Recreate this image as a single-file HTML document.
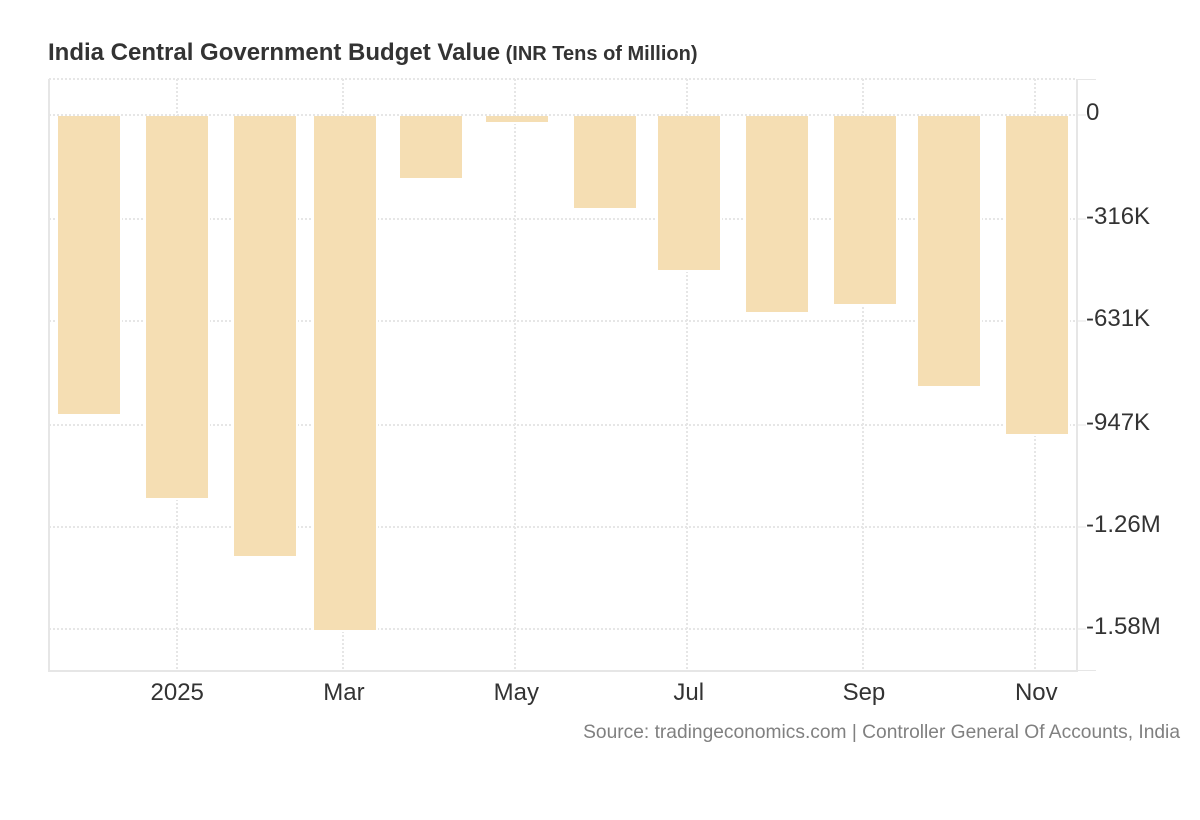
<!DOCTYPE html>
<html lang="en">
<head>
<meta charset="utf-8">
<title>India Central Government Budget Value</title>
<style>
  html, body { margin: 0; padding: 0; background: #ffffff; }
  body { width: 1200px; height: 820px; overflow: hidden; }
  svg { display: block; font-family: "Liberation Sans", Arial, sans-serif; }
</style>
</head>
<body>
<svg id="chart" xmlns="http://www.w3.org/2000/svg" width="1200" height="820" viewBox="0 0 1200 820">
  <rect x="0" y="0" width="1200" height="820" fill="#ffffff"/>
  <text x="48" y="60" fill="#333333" font-size="24" font-weight="700">India Central Government Budget Value<tspan font-size="20"> (INR Tens of Million)</tspan></text>
  <g id="grid"></g>
  <g id="bars"></g>
  <g id="axes"></g>
  <text x="1180" y="738" fill="#808080" font-size="19.2" text-anchor="end">Source: tradingeconomics.com | Controller General Of Accounts, India</text>
</svg>
<script>
// Chart data
const barDays = [-31, 0, 31, 59.5, 90, 120, 151, 181, 212, 243, 273, 304];
const barMonths = ['dec-2024', 'jan-2025', 'feb-2025', 'mar-2025', 'apr-2025', 'may-2025', 'jun-2025', 'jul-2025', 'aug-2025', 'sep-2025', 'oct-2025', 'nov-2025'];
const barValues = [-915, -1174, -1352, -1579, -190, -18, -283, -473, -602, -578, -830, -977];
const yTickValues = [0, -315.8, -631.6, -947.4, -1263.2, -1579];
const yTickLabels = ['0', '-316K', '-631K', '-947K', '-1.26M', '-1.58M'];
const xTickDays = [0, 59, 120, 181, 243, 304];
const xTickLabels = ['2025', 'Mar', 'May', 'Jul', 'Sep', 'Nov'];

const NS = 'http://www.w3.org/2000/svg';
const gridColor = '#e6e6e6';
const axisColor = '#e6e6e6';
const plotLeft = 49;
const plotRight = 1077;
const plotTop = 79;
const plotBottom = 671;
const barWidth = 62;

function yScale(v) { return 116 + (-v) * (514 / 1579); }
function barXScale(d) { return 177 + d * 2.829; }
function nearestOdd(p) { return 2 * Math.round((p - 1.0001) / 2) + 1; }
function tickXScale(d) { return nearestOdd(177 + d * 2.822); }
function labelXScale(d) { return 177.2 + d * 2.826; }
function snapEven(p) { return 2 * Math.round(p / 2); }

function make(tag, attrs, parent) {
  const el = document.createElementNS(NS, tag);
  for (const k in attrs) el.setAttribute(k, attrs[k]);
  parent.appendChild(el);
  return el;
}

const gridG = document.getElementById('grid');
const barsG = document.getElementById('bars');
const axesG = document.getElementById('axes');

// Top dotted border
const topLine = make('line', { x1: plotLeft, x2: plotRight, y1: plotTop, y2: plotTop, stroke: gridColor, 'stroke-width': 2, 'stroke-dasharray': '2 2' }, gridG);



// Vertical dotted gridlines
xTickDays.forEach(function (d, i) {
  const x = tickXScale(d);
  const line = make('line', { x1: x, x2: x, y1: plotTop, y2: plotBottom, stroke: gridColor, 'stroke-width': 2, 'stroke-dasharray': '2 2' }, gridG);
  
  
});

// Horizontal dotted gridlines
yTickValues.forEach(function (v, i) {
  const y = nearestOdd(yScale(v));
  const line = make('line', { x1: plotLeft, x2: plotRight, y1: y, y2: y, stroke: gridColor, 'stroke-width': 2, 'stroke-dasharray': '2 2' }, gridG);
  
  
});

// Bars with a white halo on sides and bottom
barValues.forEach(function (v, i) {
  const left = snapEven(barXScale(barDays[i]) - barWidth / 2);
  const top = yScale(0);
  const bottom = snapEven(yScale(v));
  const halo = make('rect', { x: left - 2, y: top, width: barWidth + 4, height: bottom - top + 2, fill: '#ffffff' }, barsG);
  
  
  const bar = make('rect', { x: left, y: top, width: barWidth, height: bottom - top, fill: '#f5deb3' }, barsG);
  
  
});

// Axis frame
const leftAxis = make('line', { x1: plotLeft, x2: plotLeft, y1: plotTop, y2: plotBottom + 1, stroke: axisColor, 'stroke-width': 2 }, axesG);


const rightAxis = make('line', { x1: plotRight, x2: plotRight, y1: plotTop, y2: plotBottom + 1, stroke: axisColor, 'stroke-width': 2 }, axesG);


const bottomAxis = make('line', { x1: plotLeft, x2: plotRight, y1: plotBottom, y2: plotBottom, stroke: axisColor, 'stroke-width': 2 }, axesG);


const topExt = make('line', { x1: plotRight, x2: 1096, y1: 79.5, y2: 79.5, stroke: axisColor, 'stroke-width': 1 }, axesG);


const bottomExt = make('line', { x1: plotRight, x2: 1096, y1: 670.5, y2: 670.5, stroke: axisColor, 'stroke-width': 1 }, axesG);



// Y axis ticks and labels
yTickValues.forEach(function (v, i) {
  const y = nearestOdd(yScale(v));
  const tick = make('line', { x1: plotRight, x2: 1086, y1: y, y2: y, stroke: axisColor, 'stroke-width': 1 }, axesG);
  
  
  const label = make('text', { x: 1086, y: y + 5, fill: '#333333', 'font-size': 24 }, axesG);
  
  
  label.textContent = yTickLabels[i];
});

// X axis labels
xTickDays.forEach(function (d, i) {
  const label = make('text', { x: labelXScale(d), y: 700, fill: '#333333', 'font-size': 24, 'text-anchor': 'middle' }, axesG);
  
  
  label.textContent = xTickLabels[i];
});
</script>
</body>
</html>
